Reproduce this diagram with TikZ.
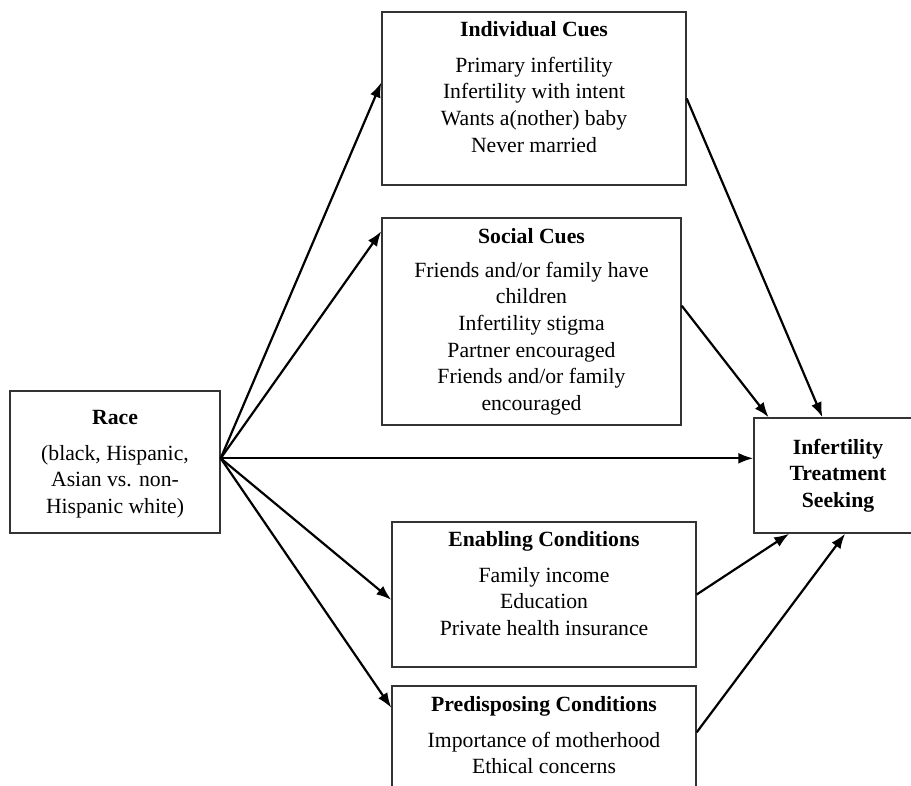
\documentclass[tikz,border=0pt]{standalone}
\usepackage{fontspec}
\setmainfont{Liberation Serif}
\usepackage{tikz}
\usetikzlibrary{arrows.meta, positioning}
\definecolor{BoxGray}{rgb}{0.2, 0.2, 0.2}
\newcommand{\hdgap}{\\[4.5pt]}

\begin{document}
\begin{tikzpicture}[x=0.5pt, y=-0.5pt,
		every node/.style={font=\fontsize{10.85}{13.35}\selectfont},
		box/.style={draw=BoxGray, line width=0.7pt, inner sep=0pt},
		txt/.style={align=center, inner sep=0pt},
		bold/.style={font=\fontsize{10.85}{13.35}\selectfont\bfseries},
		link/.style={line width=1.1pt, -{Latex[length=7.5pt, width=5.5pt]}},
		]
		\useasboundingbox (0,0) rectangle (911,786);
		\clip (0,0) rectangle (911,786);
		\node[box, minimum width=105pt, minimum height=71pt] (race) at (115,462) {};
		\node[box, minimum width=152pt, minimum height=86.5pt] (indiv) at (534,98.5) {};
		\node[box, minimum width=149.5pt, minimum height=103.5pt] (social) at (531.5,321.5) {};
		\node[box, minimum width=152pt, minimum height=72.5pt] (enabl) at (544,594.5) {};
		\node[box, minimum width=152pt, minimum height=57pt] (predis) at (544,743) {};
		\node[box, bold, align=center, minimum width=84pt, minimum height=57.5pt] (seek) at (838,475.5)
			{Infertility\\Treatment\\Seeking};
	
		\node[txt, below=7.5pt of race.north] (race-t)
			{\strut\textbf{Race}\hdgap (black, Hispanic,\\Asian vs. non-\\Hispanic white)};
		\node[txt, below=3pt of indiv.north] (indiv-t)
			{\strut\textbf{Individual Cues}\hdgap Primary infertility\\Infertility with intent\\Wants a(nother) baby\\Never married};
		\node[txt, below=3.5pt of social.north] (social-t)
			{\strut\textbf{Social Cues}\\[3.5pt] Friends and/or family have\\children\\Infertility stigma\\Partner encouraged\\Friends and/or family\\encouraged};
		\node[txt, below=3pt of enabl.north] (enabl-t)
			{\strut\textbf{Enabling Conditions}\hdgap Family income\\Education\\Private health insurance};
		\node[txt, below=3.5pt of predis.north] (predis-t)
			{\strut\textbf{Predisposing Conditions}\hdgap Importance of motherhood\\Ethical concerns};
	
		\coordinate (fan) at (race.2);
		\draw[link] (fan) -- (indiv.174);
		\draw[link] (fan) -- (social.149);
		\draw[link] (fan) -- (fan -| seek.west);
		\draw[link] (fan) -- (enabl.182);
		\draw[link] (fan) -- (predis.167);
		\draw[link] (indiv.east) -- (seek.105);
		\draw[link] (social.6) -- (seek.140);
		\draw[link] (enabl.east) -- (seek.230);
		\draw[link] (predis.4) -- (seek.277);
	\end{tikzpicture}
\end{document}
